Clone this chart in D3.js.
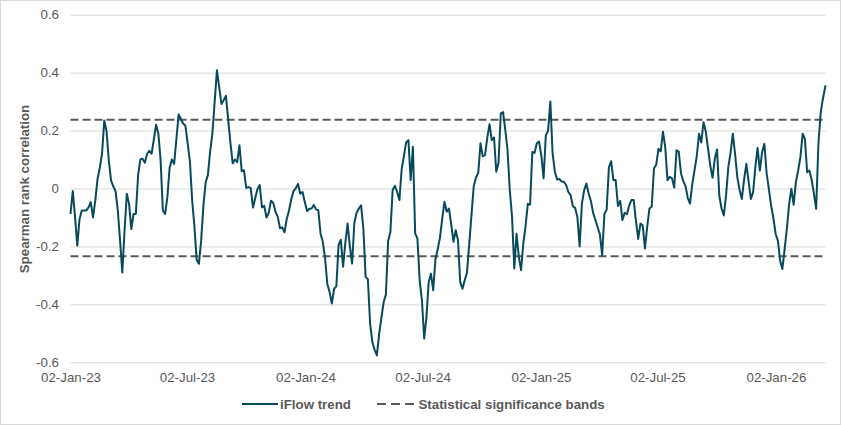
<!DOCTYPE html>
<html>
<head>
<meta charset="utf-8">
<script src="https://cdn.jsdelivr.net/npm/d3@7"></script>
<style>
  body { margin: 0; background: #fff; }
  svg { display: block; }
  text { font-family: "Liberation Sans", Arial, sans-serif; }
</style>
</head>
<body>
<svg id="chart" width="841" height="425"></svg>
<script>
// ---- data ----
const seriesStart = "2023-01-02";   // first observation
const seriesEnd = "2026-03-20";     // last observation
const stepHours = 84;               // readings taken twice a week (every 3.5 days)
const trendValues = [
  -0.088, -0.009, -0.096, -0.197, -0.106, -0.076, -0.076, -0.076, -0.065, -0.047,
  -0.10, -0.042, 0.033, 0.072, 0.12, 0.235, 0.198, 0.097, 0.028, 0.007,
  -0.009, -0.076, -0.18, -0.29, -0.145, -0.018, -0.053, -0.14, -0.088, -0.088,
  0.045, 0.10, 0.103, 0.089, 0.12, 0.13, 0.12, 0.17, 0.22, 0.19,
  0.097, -0.076, -0.088, -0.03, 0.072, 0.10, 0.085, 0.17, 0.256, 0.24,
  0.224, 0.217, 0.157, 0.094, -0.04, -0.13, -0.246, -0.26, -0.18, -0.059, 0.021,
  0.047, 0.129, 0.191, 0.30, 0.408, 0.35, 0.292, 0.305, 0.32, 0.238,
  0.157, 0.087, 0.10, 0.091, 0.149, 0.06, 0.063, 0.002, 0.005, 0.001,
  -0.066, -0.033, -0.002, 0.012, -0.065, -0.06, -0.10, -0.084, -0.042, -0.05,
  -0.08, -0.098, -0.137, -0.134, -0.151, -0.105, -0.076, -0.037, -0.009, 0.001,
  0.016, -0.018, -0.012, -0.047, -0.078, -0.07, -0.069, -0.057, -0.072, -0.075,
  -0.156, -0.184, -0.24, -0.33, -0.357, -0.397, -0.346, -0.338, -0.195, -0.177,
  -0.27, -0.188, -0.121, -0.2, -0.259, -0.119, -0.084, -0.069, -0.058, -0.138,
  -0.305, -0.313, -0.467, -0.53, -0.557, -0.576, -0.503, -0.447, -0.393, -0.366,
  -0.181, -0.15, -0.005, 0.009, -0.012, -0.04, 0.066, 0.112, 0.16, 0.167,
  0.029, 0.144, -0.155, -0.173, -0.317, -0.386, -0.518, -0.444, -0.323, -0.294,
  -0.351, -0.244, -0.21, -0.17, -0.105, -0.046, -0.08, -0.069, -0.124, -0.184,
  -0.144, -0.179, -0.323, -0.346, -0.317, -0.29, -0.192, -0.091, 0.008, 0.038,
  0.054, 0.156, 0.111, 0.115, 0.175, 0.222, 0.167, 0.176, 0.058, 0.089,
  0.259, 0.264, 0.202, 0.132, -0.006, -0.098, -0.276, -0.156, -0.236, -0.282,
  -0.19, -0.13, -0.053, -0.056, 0.126, 0.123, 0.156, 0.162, 0.113, 0.035,
  0.184, 0.2, 0.30, 0.121, 0.058, 0.031, 0.033, 0.024, 0.023, 0.012,
  -0.012, -0.023, -0.061, -0.067, -0.098, -0.20, -0.054, -0.006, 0.017, -0.017,
  -0.043, -0.084, -0.109, -0.134, -0.159, -0.23, -0.088, -0.073, 0.073, 0.094,
  0.029, 0.029, -0.06, -0.043, -0.109, -0.084, -0.089, -0.059, -0.04, -0.04,
  -0.112, -0.174, -0.121, -0.127, -0.207, -0.132, -0.069, -0.063, 0.069, 0.082,
  0.137, 0.128, 0.196, 0.143, 0.029, 0.04, 0.035, 0.003, 0.132, 0.127,
  0.052, 0.026, 0.008, -0.032, -0.052, 0.014, 0.063, 0.112, 0.189, 0.159,
  0.229, 0.197, 0.138, 0.079, 0.037, 0.103, 0.135, -0.025, -0.069, -0.093,
  -0.024, 0.074, 0.123, 0.189, 0.12, 0.039, -0.005, -0.036, 0.03, 0.085,
  0.025, -0.036, -0.013, 0.074, 0.14, 0.062, 0.126, 0.154, 0.053, -0.001,
  -0.059, -0.101, -0.157, -0.18, -0.249, -0.278, -0.209, -0.139, -0.053, -0.001,
  -0.056, 0.022, 0.062, 0.108, 0.189, 0.171, 0.056, 0.062, 0.03, -0.018,
  -0.07, 0.154, 0.262, 0.31
];
const lastValue = 0.356;            // value on seriesEnd
const bandUpper = 0.237;
const bandLower = -0.234;
const yTickValues = [-0.6, -0.4, -0.2, 0, 0.2, 0.4, 0.6];
const xTickDates = ["2023-01-02", "2023-07-02", "2024-01-02", "2024-07-02",
                    "2025-01-02", "2025-07-02", "2026-01-02"];
const seriesNames = ["iFlow trend", "Statistical significance bands"];
const yAxisTitle = "Spearman rank correlation";

// ---- build table ----
const parse = d3.utcParse("%Y-%m-%d");
const t0 = parse(seriesStart);
const tEnd = parse(seriesEnd);
const table = trendValues.map((v, i) => ({ date: d3.utcHour.offset(t0, i * stepHours), value: v }));
table.push({ date: tEnd, value: lastValue });

// ---- layout ----
const W = 841, H = 425;
const plot = { left: 70.5, right: 825.5, top: 14.7, bottom: 362.3 };
const textColor = "#595959";
const gridColor = "#d9d9d9";
const lineColor = "#084a5d";
const fontSize = "13.3px";

const svg = d3.select("#chart");

svg.append("rect")
  .attr("x", 0.5).attr("y", 0.5)
  .attr("width", W - 1).attr("height", H - 1)
  .attr("fill", "#fff").attr("stroke", gridColor).attr("stroke-width", 1);

const x = d3.scaleUtc().domain([t0, tEnd]).range([plot.left, plot.right]);
const y = d3.scaleLinear().domain([-0.6, 0.6]).range([plot.bottom, plot.top]);

// y axis with gridlines
const yAxis = svg.append("g")
  .attr("transform", `translate(${plot.left},0)`)
  .call(d3.axisLeft(y)
    .tickValues(yTickValues)
    .tickSize(-(plot.right - plot.left))
    .tickPadding(11.5)
    .tickFormat(d => d === 0 ? "0" : d.toFixed(1)));
yAxis.select(".domain").remove();
yAxis.selectAll(".tick line").attr("stroke", gridColor).attr("stroke-width", 1);
yAxis.selectAll(".tick text")
  .attr("fill", textColor).style("font-size", fontSize);

// x axis labels
const xAxis = svg.append("g")
  .attr("transform", `translate(0,${plot.bottom})`)
  .call(d3.axisBottom(x)
    .tickValues(xTickDates.map(parse))
    .tickSize(0)
    .tickPadding(10)
    .tickFormat(d3.utcFormat("%d-%b-%y")));
xAxis.select(".domain").remove();
xAxis.selectAll(".tick text")
  .attr("fill", textColor).style("font-size", fontSize);

// y axis title
svg.append("text")
  .attr("transform", `translate(29,${(plot.top + plot.bottom) / 2 + 0.5}) rotate(-90)`)
  .attr("text-anchor", "middle")
  .attr("fill", textColor)
  .style("font-size", fontSize)
  .style("font-weight", "bold")
  .text(yAxisTitle);

// significance bands
[bandUpper, bandLower].forEach(b => {
  svg.append("line")
    .attr("x1", plot.left).attr("x2", plot.right)
    .attr("y1", y(b)).attr("y2", y(b))
    .attr("stroke", textColor)
    .attr("stroke-width", 2)
    .attr("stroke-dasharray", "8,4");
});

// trend line
const line = d3.line().x(d => x(d.date)).y(d => y(d.value));
svg.append("path")
  .datum(table)
  .attr("d", line)
  .attr("fill", "none")
  .attr("stroke", lineColor)
  .attr("stroke-width", 2)
  .attr("stroke-linejoin", "round");

// legend
const legY = 404;
const leg = svg.append("g");
leg.append("line")
  .attr("x1", 242).attr("x2", 278).attr("y1", legY).attr("y2", legY)
  .attr("stroke", lineColor).attr("stroke-width", 2);
leg.append("text")
  .attr("x", 280).attr("y", legY + 5)
  .attr("fill", textColor).style("font-size", fontSize).style("font-weight", "bold")
  .text(seriesNames[0]);
leg.append("line")
  .attr("x1", 377).attr("x2", 414).attr("y1", legY).attr("y2", legY)
  .attr("stroke", textColor).attr("stroke-width", 2)
  .attr("stroke-dasharray", "9,5");
leg.append("text")
  .attr("x", 418.5).attr("y", legY + 5)
  .attr("fill", textColor).style("font-size", fontSize).style("font-weight", "bold")
  .text(seriesNames[1]);
</script>
</body>
</html>
